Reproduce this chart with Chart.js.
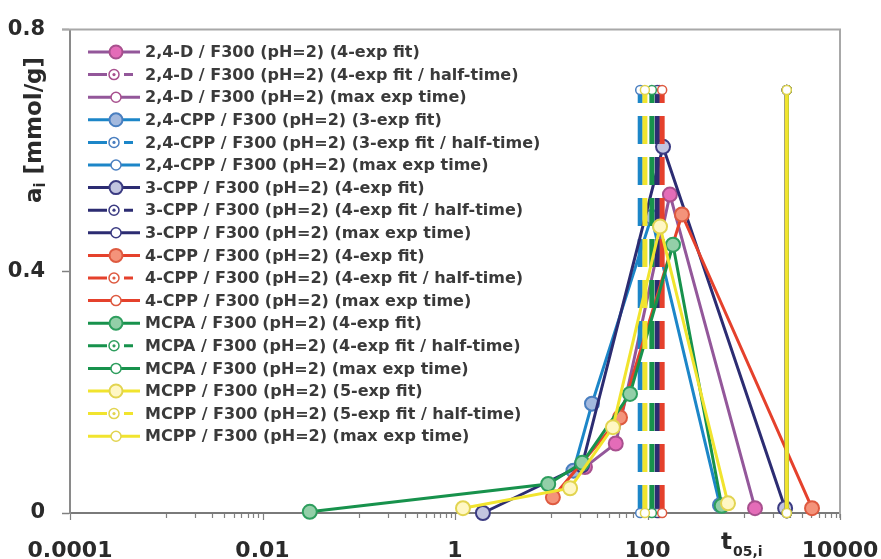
<!DOCTYPE html>
<html><head><meta charset="utf-8">
<script src="https://cdn.jsdelivr.net/npm/chart.js@4.4.1/dist/chart.umd.min.js"></script>
<style>html,body{margin:0;padding:0;background:#fff;} canvas{display:block;}</style>
</head><body>
<canvas id="c" width="881" height="559"></canvas>
<script>
// ---------------- data ----------------
const compounds = ['2,4-D', '2,4-CPP', '3-CPP', '4-CPP', 'MCPA', 'MCPP'];
const fitNames  = ['4-exp fit', '3-exp fit', '4-exp fit', '4-exp fit', '4-exp fit', '5-exp fit'];

// fitted curves: t05,i and a_i [mmol/g]
const t_24D   = [22.4, 46.8, 171, 1309];
const a_24D   = [0.076, 0.115, 0.527, 0.008];
const t_24CPP = [17, 26.5, 110, 566];
const a_24CPP = [0.07, 0.181, 0.49, 0.013];
const t_3CPP  = [1.95, 20.9, 145, 2690];
const a_3CPP  = [0.0, 0.079, 0.606, 0.008];
const t_4CPP  = [10.4, 51.8, 228, 5120];
const a_4CPP  = [0.026, 0.158, 0.494, 0.008];
const t_MCPA  = [0.031, 9.3, 21, 65.8, 184, 590];
const a_MCPA  = [0.002, 0.048, 0.083, 0.197, 0.444, 0.012];
const t_MCPP  = [1.21, 15.7, 43.7, 135, 686];
const a_MCPP  = [0.008, 0.041, 0.142, 0.474, 0.016];

const halfTimes   = [132, 84, 126, 142, 111, 94];
const maxExpTimes = [2800, 2800, 2800, 2800, 2800, 2800];
const markerLevels = [0, 0.70];

const xTickValues = [0.0001, 0.01, 1, 100, 10000];
const xTickLabels = ['0.0001', '0.01', '1', '100', '10000'];
const yTickValues = [0, 0.4, 0.8];
const yTickLabels = ['0', '0.4', '0.8'];

// ---------------- styles ----------------
const lineColors   = ['#93579a', '#1c86c8', '#2c2c72', '#e5412c', '#17924c', '#f1e42e'];
const markerFills  = ['#e46cb8', '#a3b9de', '#c2c5e0', '#f4937a', '#93cfa8', '#fff7c4'];
const markerEdges  = ['#a8508e', '#4a7fc0', '#3b3b82', '#de5a40', '#2e9e5e', '#e2d450'];
const FONT = "'DejaVu Sans', sans-serif";
const TXT = '#2a2a2a';

const fitT = [t_24D, t_24CPP, t_3CPP, t_4CPP, t_MCPA, t_MCPP];
const fitA = [a_24D, a_24CPP, a_3CPP, a_4CPP, a_MCPA, a_MCPP];

const datasets = [];
compounds.forEach((c, i) => {
  datasets.push({
    label: c + ' / F300 (pH=2) (' + fitNames[i] + ')', kind: 'fit',
    data: fitT[i].map((t, k) => ({x: t, y: fitA[i][k]})),
    showLine: true, borderColor: lineColors[i], borderWidth: 3,
    pointRadius: 7, pointBackgroundColor: markerFills[i], pointBorderColor: markerEdges[i], pointBorderWidth: 2
  });
  datasets.push({
    label: c + ' / F300 (pH=2) (' + fitNames[i] + ' / half-time)', kind: 'half',
    data: markerLevels.map(a => ({x: halfTimes[i], y: a})),
    showLine: true, borderColor: lineColors[i], borderWidth: 5, borderDash: [28, 13], borderCapStyle: 'butt',
    pointRadius: 4.5, pointBackgroundColor: '#ffffff', pointBorderColor: markerEdges[i], pointBorderWidth: 1.5
  });
  datasets.push({
    label: c + ' / F300 (pH=2) (max exp time)', kind: 'max',
    data: markerLevels.map(a => ({x: maxExpTimes[i], y: a})),
    showLine: true, borderColor: lineColors[i], borderWidth: 4,
    pointRadius: 4.5, pointBackgroundColor: '#ffffff', pointBorderColor: markerEdges[i], pointBorderWidth: 1.5
  });
});
datasets.forEach((d, i) => { d.order = -i; d.clip = false; });

// minor tick marks of the x axis
function minorXTicks() {
  const v = [];
  [-3, -1, 1, 3].forEach(e => { for (let k = 1; k <= 9; k++) v.push(k * Math.pow(10, e)); });
  return v;
}

const framePlugin = {
  id: 'frame',
  beforeDatasetsDraw(chart) {
    const {ctx, chartArea: a} = chart;
    const xs = chart.scales.x;
    ctx.save();
    ctx.strokeStyle = '#a8a8a8'; ctx.lineWidth = 2;
    ctx.beginPath();
    ctx.moveTo(a.left - 8, a.top); ctx.lineTo(a.right, a.top); ctx.lineTo(a.right, a.bottom + 5);
    ctx.stroke();
    // tick marks
    ctx.strokeStyle = '#808080'; ctx.lineWidth = 1.2;
    ctx.beginPath();
    minorXTicks().forEach(v => {
      const px = Math.round(xs.getPixelForValue(v)) + 0.5;
      ctx.moveTo(px, a.bottom + 1); ctx.lineTo(px, a.bottom + 5);
    });
    xTickValues.forEach(v => {
      const px = Math.round(xs.getPixelForValue(v)) + 0.5;
      ctx.moveTo(px, a.bottom + 1); ctx.lineTo(px, a.bottom + 7);
    });
    ctx.stroke();
    ctx.restore();
  },
  afterDraw(chart) {
    const {ctx} = chart;
    const xs = chart.scales.x;
    // x tick labels
    ctx.save();
    ctx.fillStyle = TXT;
    ctx.font = 'bold 22px ' + FONT;
    ctx.textAlign = 'center'; ctx.textBaseline = 'alphabetic';
    xTickValues.forEach((v, k) => {
      ctx.fillText(xTickLabels[k], xs.getPixelForValue(v), 557);
    });
    ctx.restore();

    // y-axis title
    ctx.save();
    ctx.fillStyle = TXT;
    ctx.translate(34, 130); ctx.rotate(-Math.PI / 2);
    ctx.textAlign = 'left';
    ctx.font = 'bold 23px ' + FONT;
    const wA = ctx.measureText('a').width;
    ctx.font = 'bold 15px ' + FONT;
    const wI = ctx.measureText('i').width;
    ctx.font = 'bold 23px ' + FONT;
    const rest = ' [mmol/g]';
    const wR = ctx.measureText(rest).width;
    let x0 = -(wA + wI + wR) / 2;
    ctx.textBaseline = 'alphabetic';
    ctx.fillText('a', x0, 7);
    ctx.font = 'bold 15px ' + FONT;
    ctx.fillText('i', x0 + wA, 11);
    ctx.font = 'bold 23px ' + FONT;
    ctx.fillText(rest, x0 + wA + wI, 7);
    ctx.restore();

    // x-axis title t05,i
    ctx.save();
    ctx.fillStyle = TXT;
    ctx.textAlign = 'left'; ctx.textBaseline = 'alphabetic';
    ctx.font = 'bold 23px ' + FONT;
    ctx.fillText('t', 721, 549);
    const wt = ctx.measureText('t').width;
    ctx.font = 'bold 14px ' + FONT;
    ctx.fillText('05,i', 721 + wt + 1, 556);
    ctx.restore();

    // legend
    ctx.save();
    chart.data.datasets.forEach((ds, i) => {
      const y = 52 + i * 22.6;
      ctx.strokeStyle = ds.borderColor; ctx.lineWidth = 3; ctx.setLineDash([]);
      ctx.beginPath();
      if (ds.kind === 'half') {
        ctx.moveTo(88, y); ctx.lineTo(107, y);
        ctx.moveTo(124, y); ctx.lineTo(133, y);
      } else {
        ctx.moveTo(88, y); ctx.lineTo(140, y);
      }
      ctx.stroke();
      let mx = ds.kind === 'half' ? 114 : 116;
      let r = ds.kind === 'fit' ? 6.5 : 5;
      ctx.beginPath(); ctx.arc(mx, y, r, 0, Math.PI * 2);
      ctx.fillStyle = ds.pointBackgroundColor; ctx.fill();
      ctx.lineWidth = ds.kind === 'fit' ? 2 : 1.5; ctx.strokeStyle = ds.pointBorderColor; ctx.stroke();
      if (ds.kind === 'half') {
        ctx.beginPath(); ctx.arc(mx, y, 1.6, 0, Math.PI * 2);
        ctx.fillStyle = ds.pointBorderColor; ctx.fill();
      }
      ctx.fillStyle = '#3a3a3a';
      ctx.font = 'bold 16px ' + FONT;
      ctx.textBaseline = 'middle';
      ctx.textAlign = 'left';
      ctx.fillText(ds.label, 145, y + 1);
    });
    ctx.restore();
  }
};

new Chart(document.getElementById('c'), {
  type: 'scatter',
  data: {datasets},
  options: {
    responsive: false, animation: false, devicePixelRatio: 1,
    layout: {padding: {top: 27, right: 41, left: 0, bottom: 0}},
    plugins: {legend: {display: false}, tooltip: {enabled: false}},
    scales: {
      x: {
        type: 'logarithmic', min: 0.0001, max: 10000,
        afterFit: s => { s.height = 46; },
        ticks: {display: false},
        grid: {display: false},
        border: {display: true, color: '#7a7a7a', width: 2}
      },
      y: {
        min: 0, max: 0.8,
        afterBuildTicks: s => { s.ticks = yTickValues.map(v => ({value: v})); },
        afterFit: s => { s.width = 70; },
        ticks: {
          padding: 17, color: TXT,
          font: {family: FONT, size: 21, weight: 'bold'},
          callback: (v, idx) => yTickLabels[idx]
        },
        grid: {drawOnChartArea: false, drawTicks: true, tickLength: 8, tickColor: '#808080', tickWidth: 1.5},
        border: {display: true, color: '#8a8a8a', width: 2}
      }
    }
  },
  plugins: [framePlugin]
});
</script>
</body></html>
